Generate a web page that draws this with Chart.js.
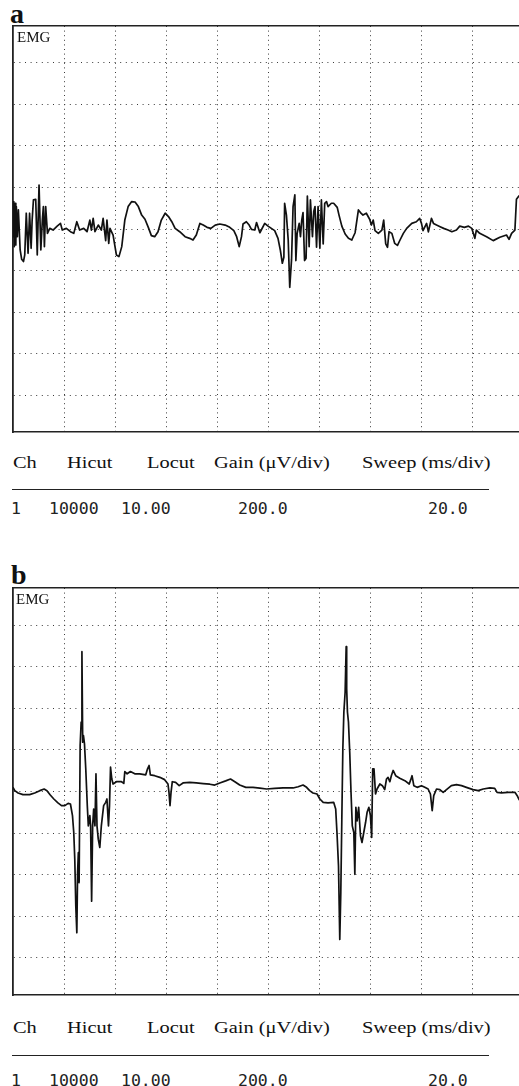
<!DOCTYPE html>
<html><head><meta charset="utf-8">
<script src="https://cdn.jsdelivr.net/npm/chart.js@4.4.1/dist/chart.umd.min.js"></script>
<style>
html,body{margin:0;padding:0;background:#fff;overflow:hidden;}
body{width:519px;height:1086px;position:relative;}
canvas{position:absolute;left:0;}
.t{position:absolute;white-space:nowrap;line-height:1;color:#111;}
.lab{font:bold 28px "Liberation Serif",serif;}
.emg{font:15px "Liberation Serif",serif;}
.hd{font:17px "Liberation Serif",serif;transform:scaleX(1.2);transform-origin:0 0;}
.val{font:16.5px "DejaVu Sans Mono",monospace;color:#222;}
.rule{position:absolute;left:12px;width:477px;height:0;border-top:1.6px solid #222;}
</style></head><body>
<div class="t lab" style="left:10px;top:-2px;">a</div>
<canvas id="chartA" width="519" height="445" style="top:0px;"></canvas>
<div class="t emg" style="left:17px;top:29px;">EMG</div>
<div class="t hd" style="left:13px;top:453px;">Ch</div>
<div class="t hd" style="left:67px;top:453px;">Hicut</div>
<div class="t hd" style="left:147px;top:453px;">Locut</div>
<div class="t hd" style="left:214px;top:453px;">Gain (μV/div)</div>
<div class="t hd" style="left:362px;top:453px;">Sweep (ms/div)</div>
<div class="rule" style="top:489px;"></div>
<div class="t val" style="left:11px;top:499px;">1</div>
<div class="t val" style="left:49px;top:499px;">10000</div>
<div class="t val" style="left:121px;top:499px;">10.00</div>
<div class="t val" style="left:238px;top:499px;">200.0</div>
<div class="t val" style="left:428px;top:499px;">20.0</div>

<div class="t lab" style="left:11px;top:559px;">b</div>
<canvas id="chartB" width="519" height="450" style="top:555px;"></canvas>
<div class="t emg" style="left:16px;top:591px;">EMG</div>
<div class="t hd" style="left:13px;top:1018px;">Ch</div>
<div class="t hd" style="left:67px;top:1018px;">Hicut</div>
<div class="t hd" style="left:147px;top:1018px;">Locut</div>
<div class="t hd" style="left:214px;top:1018px;">Gain (μV/div)</div>
<div class="t hd" style="left:362px;top:1018px;">Sweep (ms/div)</div>
<div class="rule" style="top:1055px;"></div>
<div class="t val" style="left:11px;top:1071px;">1</div>
<div class="t val" style="left:49px;top:1071px;">10000</div>
<div class="t val" style="left:121px;top:1071px;">10.00</div>
<div class="t val" style="left:238px;top:1071px;">200.0</div>
<div class="t val" style="left:428px;top:1071px;">20.0</div>

<script>
// Grid divisions: sweep 20 ms/div, gain 200 µV/div
const xGridMs = [20, 40, 60, 80, 100, 120, 140, 160, 180];
const yGridUv = [-800, -600, -400, -200, 0, 200, 400, 600, 800];
const sweepRangeMs = [0, 198.2];
const gainRangeUv = [-978, 978];

// Panel a: EMG trace (time in ms, amplitude in µV)
const aTimeMs = [
  0.0,0.3,0.5,0.8,1.1,1.3,1.7,2.1,2.8,3.4,
  4.1,4.6,5.2,5.9,6.5,7.1,7.5,8.0,8.9,9.5,
  10.2,10.9,11.5,11.9,12.3,12.8,13.5,14.4,15.7,17.3,
  18.6,19.3,20.9,22.5,23.8,25.0,26.1,27.7,29.0,30.1,
  30.7,31.4,32.1,33.4,34.6,35.3,36.3,36.8,37.5,38.0,
  39.2,40.5,41.5,42.6,43.8,45.1,46.5,47.8,49.1,50.4,
  51.7,53.0,54.2,55.5,56.8,58.1,59.6,60.9,62.2,63.5,
  65.3,67.4,69.2,70.5,71.8,73.2,74.5,76.0,77.5,79.2,
  81.0,83.1,84.9,86.5,87.6,88.6,89.5,90.1,91.4,92.5,
  93.4,94.7,95.4,96.7,98.6,99.9,101.2,102.5,103.8,104.7,
  105.5,106.1,106.4,107.1,107.8,108.4,109.1,109.7,110.4,110.8,
  111.3,112.1,112.6,113.1,113.6,114.2,114.8,115.3,116.0,116.5,
  117.3,117.8,118.3,118.9,119.5,120.2,120.8,121.5,122.1,122.8,
  123.4,124.7,125.6,127.0,127.7,128.8,130.1,131.4,132.7,134.0,
  135.3,136.1,137.1,138.4,139.7,140.4,141.1,141.8,143.1,144.5,
  145.2,146.0,146.7,147.3,148.4,149.5,150.6,151.6,152.9,154.2,
  156.2,158.0,159.3,160.0,160.6,162.0,162.7,163.9,164.7,165.9,
  167.3,168.7,170.4,171.9,173.7,175.0,176.8,178.4,179.7,180.4,
  180.9,181.5,182.8,185.5,188.1,190.7,193.3,194.3,195.3,196.6,
  197.2,198.0,198.6
];
const aSignalUv = [
  -37,132,-85,124,-77,108,-37,92,-101,-146,
  -157,-125,76,-117,76,-93,43,140,143,-125,
  212,-101,43,108,-85,108,-21,3,-5,14,
  27,-5,3,-13,-21,35,-5,3,-13,43,
  -5,51,-13,19,-5,51,-56,43,-69,3,
  -29,-125,-133,-85,43,108,132,130,108,67,
  47,8,-32,-37,-13,43,76,60,35,3,
  -13,-37,-45,-53,-29,27,19,8,3,19,
  24,19,8,-8,-37,-85,-37,24,35,19,
  -2,-5,31,-18,27,14,3,-8,-45,-101,
  -165,-136,124,67,-53,-281,-149,108,164,-152,
  -21,27,-37,43,79,-152,-141,159,-85,140,
  -37,84,108,-88,108,-93,140,-72,124,132,
  108,124,124,104,67,14,-24,-45,-53,-18,
  92,79,67,76,47,19,43,-8,-21,-5,
  43,-72,-88,-13,-21,-69,-79,-53,-21,3,
  27,35,51,27,-8,27,-14,51,27,19,
  11,3,-5,-13,-5,14,8,14,3,-24,
  -45,-5,-21,-37,-56,-40,-29,-50,-21,-5,
  143,156,165
];

// Panel b: EMG trace (time in ms, amplitude in µV)
const bTimeMs = [
  0.0,0.7,2.0,3.9,6.5,8.5,10.5,12.2,13.3,14.6,
  16.0,17.6,19.0,20.3,21.6,22.5,23.3,23.8,24.2,24.6,
  25.0,25.3,25.6,25.9,26.3,26.7,27.0,27.3,27.6,28.0,
  28.5,29.1,29.5,30.1,30.4,30.8,31.2,31.6,32.1,32.5,
  32.9,33.4,34.0,34.6,35.5,36.3,36.8,37.4,37.8,38.2,
  38.7,39.2,40.5,42.5,43.4,43.8,44.7,46.0,47.7,49.6,
  52.0,52.7,53.3,53.8,55.5,57.5,59.4,60.7,61.1,61.5,
  61.9,62.4,63.7,65.1,66.6,69.2,71.8,74.5,77.1,79.0,
  81.0,83.3,85.2,86.9,88.8,91.2,94.0,96.7,99.3,102.5,
  105.8,109.7,111.7,113.6,115.0,116.2,117.5,119.1,120.2,121.5,
  123.4,125.6,126.4,126.9,127.5,128.0,128.4,128.8,129.2,129.6,
  130.1,130.5,130.7,131.0,131.4,131.9,132.4,132.9,133.5,133.9,
  134.3,134.8,135.4,136.1,136.7,137.4,138.1,138.7,139.4,140.0,
  140.5,140.9,141.4,142.0,142.6,143.7,144.7,145.6,146.3,146.9,
  147.6,148.2,148.9,149.9,151.5,153.5,155.2,155.8,156.3,157.0,
  158.3,160.0,161.3,162.6,163.5,164.2,164.8,165.9,167.2,168.5,
  169.8,171.7,173.7,175.7,177.6,180.2,182.2,184.2,186.8,188.7,
  189.6,191.3,193.9,196.6,197.5,198.1,198.6
];
const bSignalUv = [
  20,4,-7,-15,-15,-7,4,12,4,-17,
  -36,-55,-68,-68,-57,-60,-116,-197,-326,-551,
  -679,-390,-294,-438,221,334,672,237,269,229,
  109,-68,-165,-116,-165,-527,-165,-84,-165,85,
  -165,-229,-269,-165,-68,-52,-36,-165,-68,117,
  60,36,47,47,39,96,85,96,85,85,
  80,109,125,80,76,68,57,36,-4,-68,
  -4,47,44,28,41,44,41,38,35,31,
  41,51,60,47,31,20,20,16,12,15,
  17,17,23,31,20,4,-7,-12,-36,-52,
  -55,-52,-84,-197,-358,-711,-486,-133,205,382,
  478,696,495,382,334,189,-4,-165,-197,-398,
  -76,-141,-76,-213,-245,-197,-149,-100,-76,-116,
  -221,109,109,-12,12,36,28,9,60,68,
  47,76,101,76,64,52,36,57,76,28,
  20,28,20,12,-12,-92,-20,12,9,-4,
  9,28,33,28,20,9,4,12,17,15,
  -4,-7,-4,-4,-20,-36,-45
];

function makeChart(id, times, volts, pad) {
  const pts = times.map((t, i) => ({x: t, y: volts[i]}));
  return new Chart(document.getElementById(id), {
    type: 'line',
    data: {datasets: [{data: pts, borderColor: '#111', borderWidth: 1.7,
      borderJoinStyle: 'round', pointRadius: 0, tension: 0, fill: false}]},
    options: {
      responsive: false, animation: false, devicePixelRatio: 1,
      layout: {padding: pad},
      plugins: {legend: {display: false}, tooltip: {enabled: false}},
      scales: {
        x: {type: 'linear', position: 'bottom', min: sweepRangeMs[0], max: sweepRangeMs[1],
          afterBuildTicks: s => { s.ticks = xGridMs.map(v => ({value: v})); },
          ticks: {display: false},
          grid: {color: '#3a3a3a', lineWidth: 1, drawTicks: false},
          border: {display: true, color: '#222', width: 1.6, dash: [1, 3.6]}},
        xTop: {type: 'linear', axis: 'x', position: 'top', min: sweepRangeMs[0], max: sweepRangeMs[1],
          ticks: {display: false},
          grid: {display: false, drawTicks: false},
          border: {display: true, color: '#222', width: 1.6}},
        y: {type: 'linear', position: 'left', min: gainRangeUv[0], max: gainRangeUv[1],
          afterBuildTicks: s => { s.ticks = yGridUv.map(v => ({value: v})); },
          ticks: {display: false},
          grid: {color: '#3a3a3a', lineWidth: 1, drawTicks: false},
          border: {display: true, color: '#222', width: 1.8, dash: [1, 4.6]}}
      }
    }
  });
}
makeChart('chartA', aTimeMs, aSignalUv, {left: 13, top: 26, right: 0, bottom: 13});
makeChart('chartB', bTimeMs, bSignalUv, {left: 13, top: 33, right: 0, bottom: 10});
</script>
</body></html>
